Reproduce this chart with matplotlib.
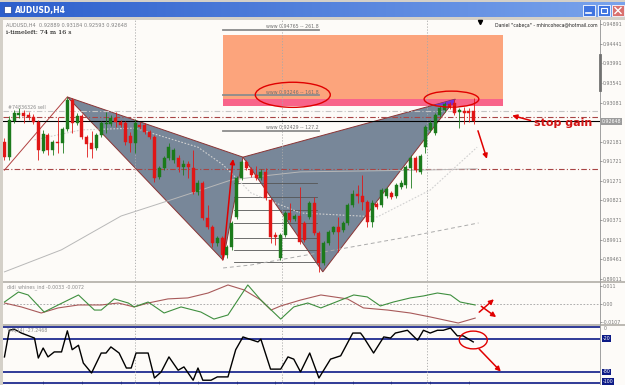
import matplotlib
matplotlib.use("Agg")
import matplotlib.pyplot as plt
import matplotlib.transforms as mtransforms
import numpy as np
from matplotlib.colors import LinearSegmentedColormap
from matplotlib.patches import Rectangle, Polygon, Ellipse, FancyArrowPatch

W, H = 625, 385

# AUDUSD H4 bars, oldest first
opens = [0.9217, 0.9182, 0.9265, 0.9279, 0.9284, 0.9279, 0.9275, 0.9263, 0.9196, 0.9233,
         0.9199, 0.9217, 0.9215, 0.9247, 0.9314, 0.9261, 0.9277, 0.9229, 0.9215, 0.9203,
         0.9233, 0.9259, 0.9259, 0.9272, 0.9263, 0.9261, 0.9231, 0.9215, 0.9256, 0.9256,
         0.9240, 0.9229, 0.9136, 0.9157, 0.9180, 0.9175, 0.9180, 0.9159, 0.9166, 0.9157,
         0.9101, 0.9122, 0.9041, 0.9021, 0.8984, 0.8995, 0.8956, 0.8974, 0.9044, 0.9134,
         0.9171, 0.9152, 0.9141, 0.9134, 0.9148, 0.9083, 0.9002, 0.8949, 0.9002, 0.9053,
         0.9039, 0.9046, 0.9030, 0.9044, 0.9076, 0.9007, 0.8937, 0.8984, 0.9009, 0.9021,
         0.9014, 0.9030, 0.9071, 0.9097, 0.9092, 0.9078, 0.9032, 0.9074, 0.9071, 0.9092,
         0.9099, 0.9092, 0.9113, 0.9118, 0.9157, 0.9180, 0.9148, 0.9205, 0.9245, 0.9238,
         0.9279, 0.9291, 0.9305, 0.9307, 0.9286, 0.9289, 0.9289, 0.92889]
closes = [0.9182, 0.9268, 0.9284, 0.9284, 0.9277, 0.9275, 0.9263, 0.9199, 0.9235, 0.9199,
          0.9217, 0.9215, 0.9247, 0.9314, 0.9261, 0.9277, 0.9229, 0.9212, 0.9201, 0.9233,
          0.9261, 0.9261, 0.9272, 0.9263, 0.9256, 0.9217, 0.9215, 0.9261, 0.9252, 0.9240,
          0.9229, 0.9134, 0.9157, 0.9180, 0.9205, 0.9199, 0.9159, 0.9166, 0.9159, 0.9101,
          0.9122, 0.9041, 0.9021, 0.8984, 0.8995, 0.8956, 0.8974, 0.9030, 0.9134, 0.9171,
          0.9157, 0.9141, 0.9134, 0.9148, 0.9088, 0.8998, 0.8998, 0.9002, 0.9053, 0.9037,
          0.9046, 0.8986, 0.8991, 0.9076, 0.9007, 0.8937, 0.8984, 0.9009, 0.9021, 0.9009,
          0.9030, 0.9071, 0.9097, 0.9092, 0.9078, 0.9032, 0.9076, 0.9067, 0.9106, 0.9108,
          0.9090, 0.9118, 0.9122, 0.9159, 0.9180, 0.9152, 0.9185, 0.9252, 0.9261, 0.9279,
          0.9296, 0.9305, 0.9298, 0.9284, 0.9291, 0.9284, 0.9284, 0.92648]
highs = [0.9226, 0.9277, 0.9291, 0.9296, 0.9291, 0.9286, 0.9282, 0.9268, 0.9245, 0.9238,
         0.9222, 0.9275, 0.9252, 0.9321, 0.9319, 0.9284, 0.9282, 0.9233, 0.9242, 0.9238,
         0.9265, 0.9286, 0.9279, 0.9286, 0.9268, 0.9265, 0.9240, 0.9270, 0.9263, 0.9261,
         0.9245, 0.9233, 0.9162, 0.9185, 0.9215, 0.9203, 0.9187, 0.9175, 0.9173, 0.9199,
         0.9129, 0.9127, 0.9071, 0.9025, 0.9000, 0.9000, 0.8979, 0.9034, 0.9138, 0.9175,
         0.9175, 0.9159, 0.9162, 0.9155, 0.9157, 0.9088, 0.9009, 0.9007, 0.9058, 0.9076,
         0.9051, 0.9113, 0.9034, 0.9081, 0.9090, 0.9011, 0.8988, 0.9014, 0.9023, 0.9044,
         0.9034, 0.9076, 0.9106, 0.9118, 0.9141, 0.9083, 0.9083, 0.9078, 0.9111, 0.9113,
         0.9104, 0.9122, 0.9129, 0.9164, 0.9187, 0.9185, 0.9189, 0.9256, 0.9268, 0.9284,
         0.9300, 0.9309, 0.9309, 0.9316, 0.9296, 0.9298, 0.9296, 0.93184]
lows = [0.9175, 0.9175, 0.9261, 0.9272, 0.9261, 0.9268, 0.9259, 0.9175, 0.9192, 0.9187,
        0.9187, 0.9192, 0.9192, 0.9242, 0.9238, 0.9256, 0.9224, 0.9182, 0.9180, 0.9199,
        0.9229, 0.9238, 0.9254, 0.9252, 0.9252, 0.9210, 0.9194, 0.9192, 0.9247, 0.9235,
        0.9224, 0.9125, 0.9132, 0.9152, 0.9175, 0.9168, 0.9148, 0.9141, 0.9134, 0.9097,
        0.9095, 0.9037, 0.9016, 0.8974, 0.8977, 0.8944, 0.8949, 0.8967, 0.9039, 0.9129,
        0.9152, 0.9136, 0.9129, 0.9129, 0.9083, 0.8984, 0.8979, 0.8944, 0.8998, 0.9032,
        0.9034, 0.8981, 0.8986, 0.9039, 0.9002, 0.8917, 0.8933, 0.8979, 0.9004, 0.8963,
        0.9009, 0.9025, 0.9067, 0.9076, 0.9060, 0.9021, 0.9021, 0.9062, 0.9067, 0.9088,
        0.9085, 0.9088, 0.9108, 0.9111, 0.9111, 0.9148, 0.9143, 0.9192, 0.9240, 0.9233,
        0.9275, 0.9286, 0.9293, 0.9279, 0.9249, 0.9259, 0.9263, 0.92593]

# harmonic pattern pivots X, A, B, C, D, (bar index, price)
pivot_bar = [0, 13, 45.2, 49.3, 65.8, 93.2]
pivot_price = [0.9152, 0.9321, 0.8944, 0.9182, 0.8917, 0.9316]

# projection targets and their labels
target_price = [0.94765, 0.93246, 0.92429]
target_label = ["www 0.94765 -- 261.8", "www 0.93246 -- 161.8", "www 0.92429 -- 127.2"]
zone_top, zone_bottom, zone_pink = 0.9464, 0.9316, 0.9300

# fib grid drawn inside the B-C leg
fib_levels = [0.9122, 0.9090, 0.9060, 0.9030, 0.8995, 0.8967, 0.8940]

# horizontal levels
level_grey = 0.9289
level_red_hi = 0.9275
last_price = 0.92648
level_red_lo = 0.9155

# moving averages (read at a few bars)
ma_slow_bar = [0, 11.8, 24.1, 32.4, 40.6, 46.8, 53, 61.2, 73.6, 86, 97.7]
ma_slow = [0.8917, 0.8968, 0.9046, 0.9076, 0.9106, 0.9129, 0.9138, 0.9148, 0.9150, 0.9152, 0.9155]
ma_mid_bar = [6.2, 15.9, 27, 40, 45.2, 51, 61.2, 77.1, 88, 97.7]
ma_mid = [0.9222, 0.9245, 0.9249, 0.9205, 0.9164, 0.9099, 0.9053, 0.9044, 0.9106, 0.9205]
ma_low_bar = [45.2, 51, 66, 82, 98]
ma_low = [0.8926, 0.8933, 0.8963, 0.8995, 0.9030]

# didi_whines_ind
didi_green_bar = [0, 2.9, 4.9, 8.2, 11.1, 15.3, 18.6, 20, 22.7, 25.6, 26.8, 29.7, 33, 36.5, 40.6, 43.3,
                  46.2, 50.3, 53, 57.1, 59.8, 62.7, 65.4, 68, 72.2, 75, 77.7, 80.4, 83.9, 86.6, 89.5,
                  92.2, 94.2, 97.3]
didi_green = [0.0012, 0.0073, 0.0055, -0.0049, -0.0006, 0.0055, -0.0037, -0.0037, 0.0031, 0.0006,
              -0.0018, 0.0012, -0.0055, -0.0018, -0.0049, -0.0092, -0.0067, 0.0116, 0.0024, -0.0092,
              -0.0018, 0.0006, -0.0024, 0.0006, 0.0055, 0.0043, -0.0012, 0.0012, 0.0037, 0.0049,
              0.0067, 0.0055, 0.0012, -0.0006]
didi_red_bar = [0, 3.5, 7.6, 11.1, 15.3, 20, 23.5, 26.8, 29.7, 33.8, 37.9, 42.1, 46.2, 49.5, 53,
                55.1, 57.1, 61.2, 65.4, 70.9, 74.2, 79.2, 83.9, 88, 93.8, 97.3]
didi_red = [0.0006, -0.0018, -0.0055, -0.0024, -0.0006, -0.0006, 0.0006, -0.0018, 0.0006, 0.0031,
            0.0037, 0.0067, 0.0116, 0.0086, 0.0024, -0.0037, -0.0012, 0.0024, 0.0055, 0.0031,
            -0.0024, -0.0037, -0.0055, -0.0079, -0.0116, -0.0086]

# Williams %R(14)
wpr_bar = [0, 1, 2, 3.5, 6.2, 7, 8, 9, 10.3, 11.8, 13, 14, 15.3, 16.3, 18, 20, 21, 22, 23.7, 25.2,
           26.2, 27.2, 29.7, 31, 32.4, 34, 35.9, 37.1, 39, 40, 41, 42.7, 44, 46.2, 47.8, 49.3, 51,
           52.4, 53, 55, 57.1, 58.6, 59.8, 61.2, 63.1, 65, 67.4, 69.5, 72, 73.6, 74.2, 76.3, 78.4,
           79.8, 80.8, 83.3, 85.4, 86.6, 88, 89.5, 90.7, 92.2, 93.6, 94.8, 96.9]
wpr = [-53, -5, -3, -10, -19, -55, -37, -53, -44, -44, -6, -40, -32, -64, -82, -46, -46, -35, -46, -73,
       -73, -46, -46, -91, -80, -53, -77, -71, -95, -73, -95, -95, -89, -89, -40, -17, -22, -26, -21, -75,
       -75, -53, -57, -80, -46, -91, -57, -51, -10, -10, -17, -46, -17, -19, -10, -5, -23, -5, -10, -5,
       -5, -1, -15, -15, -26]

price_ticks = [0.94891, 0.94441, 0.93991, 0.93541, 0.93081, 0.92181, 0.91721, 0.91271,
               0.90821, 0.90371, 0.89911, 0.89461, 0.89011]
period_bars = [27, 57.3, 87.4]

BG = "#fdfbf8"
GRID = "#a8a8a8"
RED = "#e00000"
LABEL = "#787878"
AXIS_FS = 3.4


def box(x0, y0, x1, y1):
    return [x0 / W, 1 - y1 / H, (x1 - x0) / W, (y1 - y0) / H]


fig = plt.figure(figsize=(W / 100, H / 100), dpi=100, facecolor="#d4d0c8")

# window chrome in pixel units
chrome = fig.add_axes([0, 0, 1, 1])
chrome.set_xlim(0, W)
chrome.set_ylim(H, 0)
chrome.axis("off")
grad = np.linspace(0, 1, 256).reshape(1, -1)
tb = LinearSegmentedColormap.from_list("tb", ["#2d5fcc", "#79a3ec"])
chrome.imshow(grad, aspect="auto", cmap=tb, extent=[0, W, 17, 2], zorder=1)
chrome.add_patch(Rectangle((4, 6), 7, 7, facecolor="white", edgecolor="#1c3f99", lw=0.5, zorder=2))
chrome.text(15, 10, "AUDUSD,H4", color="white", fontsize=5.5, fontweight="bold", va="center", zorder=3)
for bx, fc in [(583, "#3f74e0"), (598, "#3f74e0"), (612, "#d9706e")]:
    chrome.add_patch(Rectangle((bx, 5), 12, 11, facecolor=fc, edgecolor="white", lw=0.6, zorder=2))
chrome.plot([586, 591], [13, 13], color="white", lw=1.2, zorder=3)
chrome.add_patch(Rectangle((601, 8), 6, 5, facecolor="none", edgecolor="white", lw=0.8, zorder=3))
chrome.plot([615, 621], [7.5, 13.5], color="white", lw=1, zorder=3)
chrome.plot([615, 621], [13.5, 7.5], color="white", lw=1, zorder=3)
chrome.add_patch(Rectangle((3, 20), W - 3, H - 20, facecolor=BG, edgecolor="none", zorder=1))
chrome.add_patch(Rectangle((3, 280.5), W - 3, 2.5, facecolor="#bdbab4", edgecolor="none", zorder=2))
chrome.add_patch(Rectangle((3, 323.5), W - 3, 2.5, facecolor="#bdbab4", edgecolor="none", zorder=2))
chrome.plot([600, 600], [20, H], color="#a0a0a0", lw=0.7, zorder=2)
chrome.plot([600, 600], [55, 90], color="#707070", lw=2, zorder=2)
chrome.plot([480], [22], marker="v", color="black", ms=3, zorder=3)
chrome.text(6, 25, "AUDUSD,H4  0.92889 0.93184 0.92593 0.92648", fontsize=3.6,
            color="#808080", va="center", zorder=3)
chrome.text(6, 33, "i-timeleft: 74 m 16 s", fontsize=4.6, family="DejaVu Serif",
            color="black", va="center", zorder=3)
chrome.text(598, 25, "Daniel \"cabeça\" - mhincoheca@hotmail.com", fontsize=3.3,
            color="#202020", ha="right", va="center", zorder=3)

# ---------------- main price panel ----------------
ax = fig.add_axes(box(3, 20, 600, 281))
ax.set_facecolor("none")
ax.set_xlim(-0.3, 123.1)
ax.set_ylim(0.88959, 0.94988)
for s in ax.spines.values():
    s.set_visible(False)
ax.set_xticks([])
ax.yaxis.tick_right()
ax.set_yticks(price_ticks)
ax.set_yticklabels([f"{p:.5f}" for p in price_ticks])
ax.tick_params(axis="y", labelsize=AXIS_FS, colors=LABEL, length=1.5, width=0.5, pad=0.8)

# target zone
ax.add_patch(Rectangle((45.2, zone_bottom), 103.1 - 45.2, zone_top - zone_bottom,
                       facecolor="#fca47c", edgecolor="none", zorder=1))
ax.add_patch(Rectangle((45.2, zone_pink), 103.1 - 45.2, zone_bottom - zone_pink,
                       facecolor="#f8648a", edgecolor="none", zorder=1))

# pattern triangles
tri_fill = "#788799"
tri_edge = "#8a3434"
ax.add_patch(Polygon(list(zip(pivot_bar[1:4], pivot_price[1:4])), closed=True,
                     facecolor=tri_fill, edgecolor=tri_edge, lw=0.7, zorder=2))
ax.add_patch(Polygon(list(zip(pivot_bar[3:6], pivot_price[3:6])), closed=True,
                     facecolor=tri_fill, edgecolor=tri_edge, lw=0.7, zorder=2))
ax.plot(pivot_bar[0:2], pivot_price[0:2], color="#b04040", lw=0.7, zorder=3)
ax.add_patch(Polygon([(88.7, 0.9302), (93.2, 0.9316), (92.8, 0.9302)], closed=True,
                     facecolor="#7b2fd6", edgecolor="none", zorder=3))

for lv in fib_levels:
    ax.plot([47.4, 64.7], [lv, lv], color="#555555", lw=0.6, zorder=3)

for bar_x in period_bars:
    ax.axvline(bar_x, color=GRID, ls=(0, (1.5, 2)), lw=0.6, zorder=3)

# levels
ax.axhline(level_grey, color="#c4c4c4", ls=(0, (5, 2, 1, 2)), lw=0.8, zorder=3)
ax.axhline(level_red_hi, color="#a84444", ls=(0, (5, 2, 1, 2)), lw=0.8, zorder=3)
ax.axhline(level_red_lo, color="#a84444", ls=(0, (5, 2, 1, 2)), lw=0.8, zorder=3)
ax.axhline(last_price, color="black", lw=0.8, zorder=3)

# target lines and labels
for p, t in zip(target_price, target_label):
    ax.plot([45.2, 65], [p, p], color="#8c8c8c", lw=1.3, zorder=3)
    ax.text(65, p + 0.0002, t, fontsize=3.4, color="#707070", ha="right", va="bottom", zorder=6)

# moving averages
ax.plot(ma_slow_bar, ma_slow, color="#b8b8b8", lw=0.7, zorder=3)
ax.plot(ma_low_bar, ma_low, color="#ababab", lw=0.7, ls=(0, (4, 3)), zorder=3)
ax.plot(ma_mid_bar, ma_mid, color="#d0d0d0", lw=0.8, ls=(0, (1.5, 1.5)), zorder=3)

# candles
idx = np.arange(len(opens))
o = np.array(opens)
c = np.array(closes)
col = np.where(c >= o, "#1b7a1b", "#e01616")
ax.vlines(idx, lows, highs, colors=col, lw=0.7, alpha=0.85, zorder=4)
ax.bar(idx, c - o, bottom=o, width=0.62, color=col, edgecolor=col, lw=0.3, zorder=5)

ax.text(0.7, 0.9297, "#74836326 sell", fontsize=3.4, color="#8a8a8a", va="center", zorder=6)

trans = mtransforms.blended_transform_factory(ax.transAxes, ax.transData)
ax.text(1.003, last_price, f"{last_price:.5f}", transform=trans, fontsize=AXIS_FS, color="white",
        va="center", ha="left", zorder=7,
        bbox=dict(facecolor="#9c9c9c", edgecolor="none", pad=0.5))

# hand-drawn annotations
ax.add_patch(Ellipse((59.6, 0.9326), 15.5, 0.0058, facecolor="none", edgecolor=RED, lw=1.0, zorder=8))
ax.add_patch(Ellipse((92.4, 0.9316), 11.3, 0.0037, facecolor="none", edgecolor=RED, lw=1.0, zorder=8))
arrow_kw = dict(arrowstyle="-|>", mutation_scale=7, color=RED, lw=1.1, zorder=9, clip_on=False)
ax.add_patch(FancyArrowPatch((97.7, 0.9249), (99.9, 0.9172), **arrow_kw))
ax.add_patch(FancyArrowPatch((109.3, 0.9265), (104.4, 0.9280), **arrow_kw))
ax.add_patch(FancyArrowPatch((45.2, 0.8944), (47.3, 0.9184), **arrow_kw))
ax.text(109.5, 0.9262, "stop gain", color="#d31414", fontsize=8, fontweight="bold",
        ha="left", va="center", zorder=9)

# ---------------- didi index panel ----------------
ax1 = fig.add_axes(box(3, 283, 600, 323.5))
ax1.set_facecolor("none")
ax1.set_xlim(-0.3, 123.1)
ax1.set_ylim(-0.0119, 0.0128)
for s in ax1.spines.values():
    s.set_visible(False)
ax1.set_xticks([])
ax1.yaxis.tick_right()
ax1.set_yticks([0.011, 0.0, -0.0107])
ax1.set_yticklabels(["0.011", "0.00", "-0.0107"])
ax1.tick_params(axis="y", labelsize=AXIS_FS, colors=LABEL, length=1.5, width=0.5, pad=0.8)
ax1.axhline(0, color="#a0a0a0", ls=(0, (2, 2)), lw=0.6)
for bar_x in period_bars:
    ax1.axvline(bar_x, color=GRID, ls=(0, (1.5, 2)), lw=0.6)
ax1.plot(didi_red_bar, didi_red, color="#a85a5a", lw=0.8)
ax1.plot(didi_green_bar, didi_green, color="#3f8f3f", lw=0.8)
ax1.text(0.5, 0.0105, "didi_whines_ind -0.0033 -0.0072", fontsize=3.4, color="#8a8a8a", va="center")
ax1.add_patch(FancyArrowPatch((97.7, -0.0061), (101.6, 0.0040), **arrow_kw))
ax1.add_patch(FancyArrowPatch((98.1, -0.0004), (102.1, -0.0090), **arrow_kw))

# ---------------- Williams %R panel ----------------
ax2 = fig.add_axes(box(3, 326, 600, 384))
ax2.set_facecolor("none")
ax2.set_xlim(-0.3, 123.1)
ax2.set_ylim(-101.8, 2.7)
for s in ax2.spines.values():
    s.set_visible(False)
ax2.set_xticks(np.arange(8, 100, 8))
ax2.tick_params(axis="x", length=2, width=0.5, colors="#707070", labelbottom=False, direction="in")
ax2.set_yticks([])
for lv in [0, -20, -80, -100]:
    ax2.axhline(lv, color="#0c1a86", lw=1.2)
for bar_x in period_bars:
    ax2.axvline(bar_x, color=GRID, ls=(0, (1.5, 2)), lw=0.6)
ax2.plot(wpr_bar, wpr, color="black", lw=1.0)
ax2.text(0.5, -6, "%R(14) -27.2468", fontsize=3.4, color="#8a8a8a", va="center")
trans2 = mtransforms.blended_transform_factory(ax2.transAxes, ax2.transData)
ax2.text(1.006, -1.5, "0", transform=trans2, fontsize=AXIS_FS, color=LABEL, va="center")
for lv in [-20, -80, -100]:
    ax2.text(1.004, lv + (3 if lv == -100 else 0), str(lv), transform=trans2, fontsize=AXIS_FS,
             color="white", va="center", bbox=dict(facecolor="#0c1a86", edgecolor="none", pad=0.5))
ax2.add_patch(Ellipse((96.9, -22.5), 5.8, 32, facecolor="none", edgecolor=RED, lw=1.0, zorder=8))
ax2.add_patch(FancyArrowPatch((97.7, -35), (103.0, -83), **arrow_kw))

fig.savefig("out.png", dpi=100, facecolor=fig.get_facecolor())
